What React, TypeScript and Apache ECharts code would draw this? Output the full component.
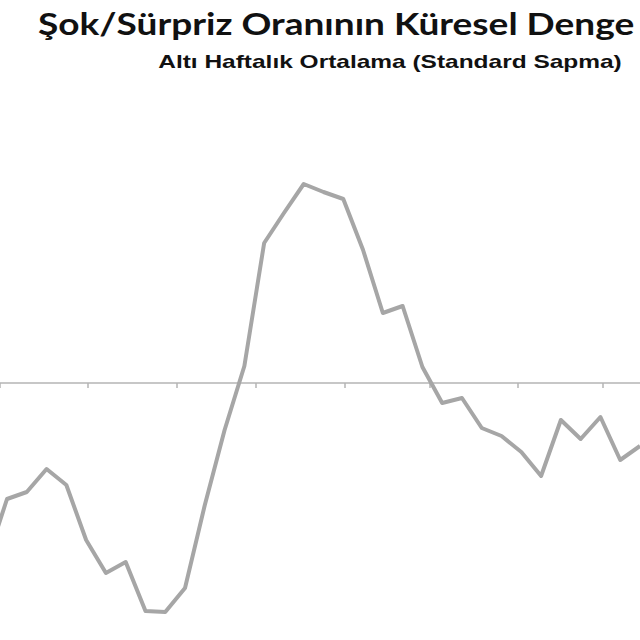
import React, { useEffect, useRef } from 'react';
import * as echarts from 'echarts';

// weekly six-week average of the global shock/surprise ratio (std. dev.)
const weekIndex = [
  0, 1, 2, 3, 4, 5, 6, 7, 8, 9, 10, 11, 12, 13, 14, 15, 16,
  17, 18, 19, 20, 21, 22, 23, 24, 25, 26, 27, 28, 29, 30, 31, 32, 33,
];
const balance = [
  -0.885, -0.58, -0.545, -0.43, -0.51, -0.785, -0.95, -0.895, -1.14, -1.145,
  -1.025, -0.61, -0.235, 0.085, 0.7, 0.85, 0.995, 0.955, 0.92, 0.665, 0.35,
  0.385, 0.08, -0.1, -0.075, -0.225, -0.265, -0.345, -0.465, -0.185, -0.28,
  -0.17, -0.385, -0.315,
];
// month boundaries, in week units
const monthTicks = [0.646, 5.095, 9.595, 13.59, 18.09, 22.39, 26.83, 31.13];

// the reference is cropped right after "Denge"
const titleText = 'Şok/Sürpriz Oranının Küresel Denge';
const subtitleText = 'Altı Haftalık Ortalama (Standard Sapma)';

export default function App() {
  const elRef = useRef<HTMLDivElement | null>(null);

  useEffect(() => {
    if (!elRef.current) return;
    const chart = echarts.init(elRef.current, undefined, { renderer: 'svg' });

    const opt: echarts.EChartsOption = {
      animation: false,
      backgroundColor: '#ffffff',
      grid: { left: 0, right: 0, top: 0, bottom: 0 },
      xAxis: {
        type: 'value',
        min: 0.646,
        max: 33,
        axisLabel: { show: false },
        splitLine: { show: false },
        axisLine: { onZero: true, lineStyle: { color: '#b4b4b4', width: 1.5 } },
        axisTick: {
          show: true,
          customValues: monthTicks,
          length: 5,
          lineStyle: { color: '#b4b4b4', width: 1.5 },
        },
      } as any,
      yAxis: {
        type: 'value',
        min: -1.285,
        max: 1.915,
        show: false,
      },
      // the source picture is stretched sideways, hence scaleX on the texts
      graphic: [
        {
          type: 'text',
          x: 38,
          y: 23,
          scaleX: 1.235,
          style: {
            text: titleText,
            font: 'bold 30px Lato',
            fill: '#111111',
            verticalAlign: 'middle',
          },
        },
        {
          type: 'text',
          x: 390,
          y: 62,
          scaleX: 1.36,
          style: {
            text: subtitleText,
            font: 'bold 18px "Liberation Sans"',
            fill: '#111111',
            align: 'center',
            verticalAlign: 'middle',
          },
        },
      ],
      series: [
        {
          type: 'line',
          data: weekIndex.map((w, i) => [w, balance[i]]),
          showSymbol: false,
          clip: true,
          lineStyle: { color: '#a6a6a6', width: 4, join: 'round' } as any,
        },
      ],
    };

    chart.setOption(opt, true);
    return () => {
      chart.dispose();
    };
  }, []);

  return (
    <div
      ref={elRef}
      style={{ position: 'fixed', left: 0, top: 0, width: 640, height: 640 }}
    />
  );
}
